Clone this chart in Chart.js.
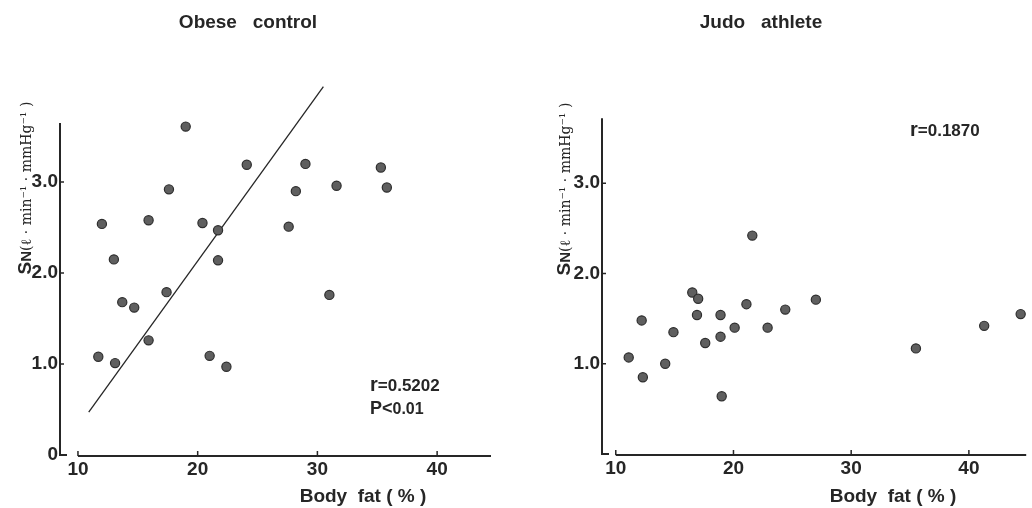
<!DOCTYPE html>
<html>
<head>
<meta charset="utf-8">
<script src="https://cdn.jsdelivr.net/npm/chart.js@4/dist/chart.umd.min.js"></script>
<style>
body { margin: 0; background: #fff; }
#wrap { display: flex; width: 1032px; height: 508px; }
canvas { display: block; }
</style>
</head>
<body>
<div id="wrap">
  <canvas id="obese" width="516" height="508"></canvas>
  <canvas id="judo" width="516" height="508"></canvas>
</div>
<script>
// Body fat (%) and SN
const obeseFat = [11.7, 12.0, 13.0, 13.1, 13.7, 14.7, 15.9, 15.9, 17.4, 17.6, 19.0, 20.4,
                  21.0, 21.7, 21.7, 22.4, 24.1, 27.6, 28.2, 29.0, 31.0, 31.6, 35.3, 35.8];
const obeseSn = [1.08, 2.54, 2.15, 1.01, 1.68, 1.62, 2.58, 1.26, 1.79, 2.92, 3.61, 2.55,
                 1.09, 2.47, 2.14, 0.97, 3.19, 2.51, 2.90, 3.20, 1.76, 2.96, 3.16, 2.94];
const judoFat = [11.1, 12.2, 12.3, 14.2, 14.9, 16.5, 16.9, 17.0, 17.6, 18.9, 18.9,
                 19.0, 20.1, 21.1, 21.6, 22.9, 24.4, 27.0, 35.5, 41.3, 44.4];
const judoSn = [1.07, 1.48, 0.85, 1.00, 1.35, 1.79, 1.54, 1.72, 1.23, 1.54, 1.30,
                0.64, 1.40, 1.66, 2.42, 1.40, 1.60, 1.71, 1.17, 1.42, 1.55];

// regression line of the obese panel (its two end points)
const fitFat = [10.9, 30.5];
const fitSn = [0.47, 4.05];

const xTicks = [10, 20, 30, 40];
const obeseYTicks = [0, 1, 2, 3];
const judoYTicks = [1, 2, 3];

const INK = '#262626';
const SANS = '"Liberation Sans", Arial, sans-serif';
const SERIF = '"DejaVu Serif", serif';

function toPoints(xs, ys) {
    return xs.map((x, i) => ({ x: x, y: ys[i] }));
}

function yLabel(v) {
    return v === 0 ? '0' : v.toFixed(1);
}

// draw a row of text pieces with different fonts
function drawRuns(ctx, x, y, runs, align) {
    let total = 0;
    runs.forEach(r => { ctx.font = r[1]; total += ctx.measureText(r[0]).width; });
    let cx = align === 'center' ? x - total / 2 : x;
    runs.forEach(r => {
        ctx.font = r[1];
        ctx.fillText(r[0], cx, y);
        cx += ctx.measureText(r[0]).width;
    });
}

// axis lines with inward ticks, plus the free text of each panel
const paperPlugin = {
    id: 'paper',
    afterDraw(chart, args, o) {
        const ctx = chart.ctx;
        const xs = chart.scales.x, ys = chart.scales.y;
        const x0 = xs.left, y0 = ys.getPixelForValue(0);
        ctx.save();
        ctx.strokeStyle = INK;
        ctx.lineWidth = 2;
        ctx.beginPath();
        ctx.moveTo(x0, ys.getPixelForValue(o.yTop));
        ctx.lineTo(x0, y0);
        ctx.lineTo(x0 + 7, y0);
        ctx.stroke();

        ctx.beginPath();
        ctx.moveTo(xs.getPixelForValue(xTicks[0]), y0 + 1);
        ctx.lineTo(xs.right, y0 + 1);
        ctx.stroke();

        ctx.lineWidth = 1.5;
        ctx.beginPath();
        xTicks.forEach(v => {
            const p = xs.getPixelForValue(v);
            ctx.moveTo(p, y0 + 1);
            ctx.lineTo(p, y0 - 4);
        });
        o.yTicks.forEach(v => {
            if (v === 0) return;
            const p = ys.getPixelForValue(v);
            ctx.moveTo(x0, p);
            ctx.lineTo(x0 + 4, p);
        });
        ctx.stroke();

        ctx.fillStyle = INK;
        ctx.textBaseline = 'middle';
        drawRuns(ctx, o.titleX, 23, [[o.title, 'bold 19px ' + SANS]], 'center');
        drawRuns(ctx, o.xTitleX, 497, [['Body  fat ( % )', 'bold 19px ' + SANS]], 'center');

        ctx.textBaseline = 'alphabetic';
        o.notes.forEach(n => drawRuns(ctx, n.x, n.y, n.runs, 'left'));

        // rotated y title
        ctx.translate(o.yTitleX, o.yTitleY);
        ctx.rotate(-Math.PI / 2);
        drawRuns(ctx, 0, 7, [
            ['S', 'bold 19px ' + SANS],
            ['N', 'bold 15px ' + SANS],
            ['(ℓ · min⁻¹ · mmHg⁻¹ )', '14px ' + SERIF]
        ], 'center');
        ctx.restore();
    }
};

function makePanel(id, fat, sn, extra, p) {
    const datasets = [{
        data: toPoints(fat, sn),
        pointRadius: 4.6,
        backgroundColor: '#5f5f5f',
        borderColor: '#2e2e2e',
        borderWidth: 1.2
    }].concat(extra);

    return new Chart(document.getElementById(id), {
        type: 'scatter',
        data: { datasets: datasets },
        plugins: [paperPlugin],
        options: {
            responsive: false,
            animation: false,
            events: [],
            layout: { padding: { left: 0, right: p.padRight, top: p.padTop, bottom: 0 } },
            plugins: {
                legend: { display: false },
                tooltip: { enabled: false },
                paper: p.paper
            },
            scales: {
                x: {
                    type: 'linear',
                    min: p.xMin,
                    max: p.xMax,
                    border: { display: false },
                    grid: { display: false, drawTicks: false },
                    afterBuildTicks: s => { s.ticks = xTicks.map(v => ({ value: v })); },
                    afterFit: s => { s.height = p.xHeight; },
                    ticks: { padding: 3, color: INK, font: { family: SANS, size: 19, weight: 'bold' } }
                },
                y: {
                    min: 0,
                    max: p.yMax,
                    border: { display: false },
                    grid: { display: false, drawTicks: false },
                    afterBuildTicks: s => { s.ticks = p.paper.yTicks.map(v => ({ value: v })); },
                    afterFit: s => { s.width = p.yWidth; },
                    ticks: {
                        padding: 2,
                        color: INK,
                        font: { family: SANS, size: 19, weight: 'bold' },
                        callback: v => yLabel(v)
                    }
                }
            }
        }
    });
}

makePanel('obese', obeseFat, obeseSn, [{
    type: 'line',
    data: toPoints(fitFat, fitSn),
    showLine: true,
    borderColor: INK,
    borderWidth: 1.3,
    pointRadius: 0,
    fill: false
}], {
    padRight: 25, padTop: 82, xHeight: 53, yWidth: 60,
    xMin: 8.5, xMax: 44.5, yMax: 4.1,
    paper: {
        yTop: 3.65, yTicks: obeseYTicks,
        title: 'Obese   control', titleX: 248, xTitleX: 363,
        yTitleX: 24, yTitleY: 188,
        notes: [
            { x: 370, y: 391, runs: [['r', 'bold 20px ' + SANS], ['=0.5202', 'bold 17px ' + SANS]] },
            { x: 370, y: 414, runs: [['P<', 'bold 18px ' + SANS], ['0.01', 'bold 16px ' + SANS]] }
        ]
    }
});

makePanel('judo', judoFat, judoSn, [], {
    padRight: 0, padTop: 93, xHeight: 54, yWidth: 86,
    xMin: 8.83, xMax: 44.87, yMax: 4.0,
    paper: {
        yTop: 3.72, yTicks: judoYTicks,
        title: 'Judo   athlete', titleX: 245, xTitleX: 377,
        yTitleX: 47, yTitleY: 189,
        notes: [
            { x: 394, y: 136, runs: [['r', 'bold 20px ' + SANS], ['=0.1870', 'bold 17px ' + SANS]] }
        ]
    }
});
</script>
</body>
</html>
